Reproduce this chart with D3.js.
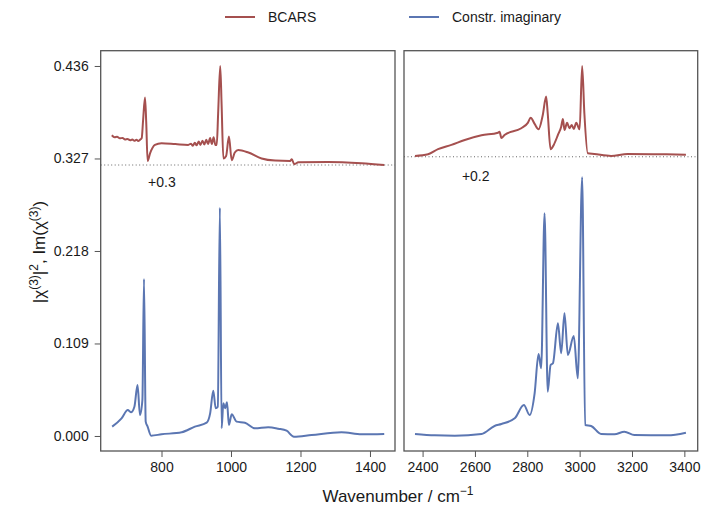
<!DOCTYPE html>
<html>
<head>
<meta charset="utf-8">
<script src="https://cdnjs.cloudflare.com/ajax/libs/d3/7.8.5/d3.min.js"></script>
<style>
body { margin: 0; background: #fff; }
svg text { font-family: "Liberation Sans", Arial, sans-serif; fill: #1a1a1a; }
</style>
</head>
<body>
<svg width="705" height="518"></svg>
<script>
// left window (fingerprint)
var bcarsLeftWn  = [657, 665, 672, 680, 688, 695, 702, 710, 716, 722, 728, 733, 738, 743, 747, 752.5, 756, 760, 767, 781, 800, 840, 877, 885, 890, 896, 901, 907, 912, 918, 923, 929, 934, 940, 945, 950, 955, 959, 963, 969, 973, 978, 986, 994, 1002, 1011, 1021, 1050, 1088, 1127, 1170, 1175, 1182, 1194, 1280, 1376, 1441];
var bcarsLeftVal = [0.3543, 0.352, 0.3525, 0.3508, 0.3512, 0.3495, 0.350, 0.3485, 0.3495, 0.3478, 0.3492, 0.3475, 0.349, 0.351, 0.372, 0.399, 0.37, 0.324, 0.333, 0.343, 0.345, 0.344, 0.343, 0.3445, 0.342, 0.3455, 0.3425, 0.347, 0.343, 0.348, 0.3435, 0.349, 0.344, 0.351, 0.344, 0.352, 0.343, 0.343, 0.38, 0.436, 0.39, 0.327, 0.33, 0.353, 0.325, 0.334, 0.337, 0.334, 0.327, 0.3245, 0.324, 0.326, 0.3202, 0.3225, 0.3229, 0.3213, 0.3193];
var imagLeftWn  = [658, 685, 703, 712, 722, 731, 738, 745, 749.6, 754.5, 760, 770, 800, 858, 896, 930, 940, 949, 956, 962, 968, 973, 978, 983, 988.5, 994, 1002, 1016, 1040, 1069, 1107, 1136, 1160, 1181, 1232, 1318, 1376, 1441];
var imagLeftVal = [0.011, 0.0208, 0.0306, 0.0279, 0.0345, 0.060, 0.0247, 0.0424, 0.185, 0.0169, 0.011, 0.0004, 0.002, 0.0044, 0.011, 0.0157, 0.0267, 0.0534, 0.0326, 0.0345, 0.269, 0.009, 0.0385, 0.0326, 0.0397, 0.013, 0.0256, 0.0169, 0.0157, 0.009, 0.0103, 0.0086, 0.0062, -0.0008, 0.0012, 0.0044, 0.002, 0.0024];

// right window (CH stretch)
var bcarsRightWn  = [2371, 2421, 2459, 2510, 2561, 2625, 2688, 2694, 2701, 2713, 2777, 2802, 2813, 2828, 2843, 2859, 2872, 2878, 2889, 2901, 2917, 2929.5, 2936, 2942, 2952, 2961, 2970, 2977.5, 2987, 3000, 3009.5, 3018, 3031, 3056, 3120, 3183, 3310, 3406];
var bcarsRightVal = [0.33, 0.332, 0.338, 0.343, 0.3488, 0.3543, 0.3574, 0.3586, 0.3512, 0.3547, 0.3626, 0.369, 0.375, 0.3677, 0.3614, 0.378, 0.40, 0.3803, 0.3378, 0.343, 0.3547, 0.3645, 0.3736, 0.3606, 0.369, 0.3626, 0.3665, 0.3618, 0.369, 0.3614, 0.436, 0.3803, 0.3331, 0.3323, 0.33, 0.3323, 0.332, 0.3315];
var imagRightWn  = [2371, 2447, 2523, 2625, 2675, 2701, 2752, 2787, 2809, 2828, 2843, 2853, 2866, 2878, 2889, 2898, 2917, 2929.5, 2942, 2955, 2977.5, 2993, 3009.5, 3021, 3044, 3082, 3133, 3171, 3209, 3336, 3406];
var imagRightVal = [0.0024, 0.0008, 0.0004, 0.0024, 0.0118, 0.0141, 0.0208, 0.0365, 0.0247, 0.0503, 0.0966, 0.0798, 0.2624, 0.0522, 0.0837, 0.0857, 0.1328, 0.0975, 0.1446, 0.0955, 0.1178, 0.068, 0.3049, 0.013, 0.0118, 0.0024, 0.002, 0.0051, 0.0012, 0.0008, 0.0039];

var yTicks = [0, 0.109, 0.218, 0.327, 0.436];
var xTicksLeft = [800, 1000, 1200, 1400];
var xTicksRight = [2400, 2600, 2800, 3000, 3200, 3400];
var baselines = [0.3193, 0.329];
var offsetLabels = ["+0.3", "+0.2"];
var seriesNames = ["BCARS", "Constr. imaginary"];

var red = "#a5504f", blue = "#5b76b2", frame = "#555";

var svg = d3.select("svg");

var y = d3.scaleLinear().domain([-0.0177, 0.454]).range([451, 50.7]);

var panels = [
  { x: d3.scaleLinear().domain([625, 1472]).range([100.7, 395]), ticks: xTicksLeft,
    bcars: d3.zip(bcarsLeftWn, bcarsLeftVal), imag: d3.zip(imagLeftWn, imagLeftVal),
    base: baselines[0], label: offsetLabels[0], labelWn: 801, labelVal: 0.2934 },
  { x: d3.scaleLinear().domain([2329, 3451]).range([404, 697.7]), ticks: xTicksRight,
    bcars: d3.zip(bcarsRightWn, bcarsRightVal), imag: d3.zip(imagRightWn, imagRightVal),
    base: baselines[1], label: offsetLabels[1], labelWn: 2603, labelVal: 0.3005 }
];

panels.forEach(function(p, i) {
  var r = p.x.range();
  var g = svg.append("g");

  var line = d3.line()
    .x(function(d) { return p.x(d[0]); })
    .y(function(d) { return y(d[1]); })
    .curve(d3.curveMonotoneX);

  g.append("line")
    .attr("x1", r[0]).attr("x2", r[1])
    .attr("y1", y(p.base)).attr("y2", y(p.base))
    .attr("stroke", "#666").attr("stroke-width", 1)
    .attr("stroke-dasharray", "1,2.5");

  g.append("path").attr("d", line(p.imag))
    .attr("fill", "none").attr("stroke", blue).attr("stroke-width", 2)
    .attr("stroke-linejoin", "round");
  g.append("path").attr("d", line(p.bcars))
    .attr("fill", "none").attr("stroke", red).attr("stroke-width", 2)
    .attr("stroke-linejoin", "round");

  g.append("text")
    .attr("x", p.x(p.labelWn)).attr("y", y(p.labelVal))
    .attr("font-size", 14).attr("text-anchor", "middle")
    .text(p.label);

  g.append("rect")
    .attr("x", r[0]).attr("y", 50.7)
    .attr("width", r[1] - r[0]).attr("height", 451 - 50.7)
    .attr("fill", "none").attr("stroke", frame).attr("stroke-width", 1.3);

  var xa = g.append("g").attr("transform", "translate(0,451)")
    .call(d3.axisBottom(p.x).tickValues(p.ticks).tickSize(6).tickPadding(5).tickFormat(d3.format("d")));
  xa.select(".domain").remove();
  xa.selectAll("line").attr("stroke", frame);
  xa.selectAll("text").attr("font-size", 14).attr("fill", "#1a1a1a")
    .style("font-family", "Liberation Sans, Arial, sans-serif");
});

var ya = svg.append("g").attr("transform", "translate(100.7,0)")
  .call(d3.axisLeft(y).tickValues(yTicks).tickSize(6).tickPadding(6).tickFormat(d3.format(".3f")));
ya.select(".domain").remove();
ya.selectAll("line").attr("stroke", frame);
ya.selectAll("text").attr("font-size", 14).attr("fill", "#1a1a1a")
  .style("font-family", "Liberation Sans, Arial, sans-serif");

// legend
var legend = [[225, red], [409, blue]];
legend.forEach(function(l, i) {
  svg.append("line").attr("x1", l[0]).attr("x2", l[0] + 30)
    .attr("y1", 17).attr("y2", 17).attr("stroke", l[1]).attr("stroke-width", 2);
  svg.append("text").attr("x", l[0] + 43).attr("y", 22)
    .attr("font-size", 14).text(seriesNames[i]);
});

// axis titles
var xt = svg.append("text").attr("x", 398).attr("y", 502)
  .attr("text-anchor", "middle").attr("font-size", 17);
xt.append("tspan").text("Wavenumber / cm");
xt.append("tspan").attr("dy", -7).attr("font-size", 12).text("\u22121");

var yt = svg.append("text")
  .attr("transform", "translate(45,252) rotate(-90)")
  .attr("text-anchor", "middle").attr("font-size", 17);
yt.append("tspan").text("|\u03c7");
yt.append("tspan").attr("dy", -7).attr("font-size", 12).text("(3)");
yt.append("tspan").attr("dy", 7).text("|");
yt.append("tspan").attr("dy", -7).attr("font-size", 12).text("2");
yt.append("tspan").attr("dy", 7).text(", Im(\u03c7");
yt.append("tspan").attr("dy", -7).attr("font-size", 12).text("(3)");
yt.append("tspan").attr("dy", 7).text(")");
</script>
</body>
</html>
